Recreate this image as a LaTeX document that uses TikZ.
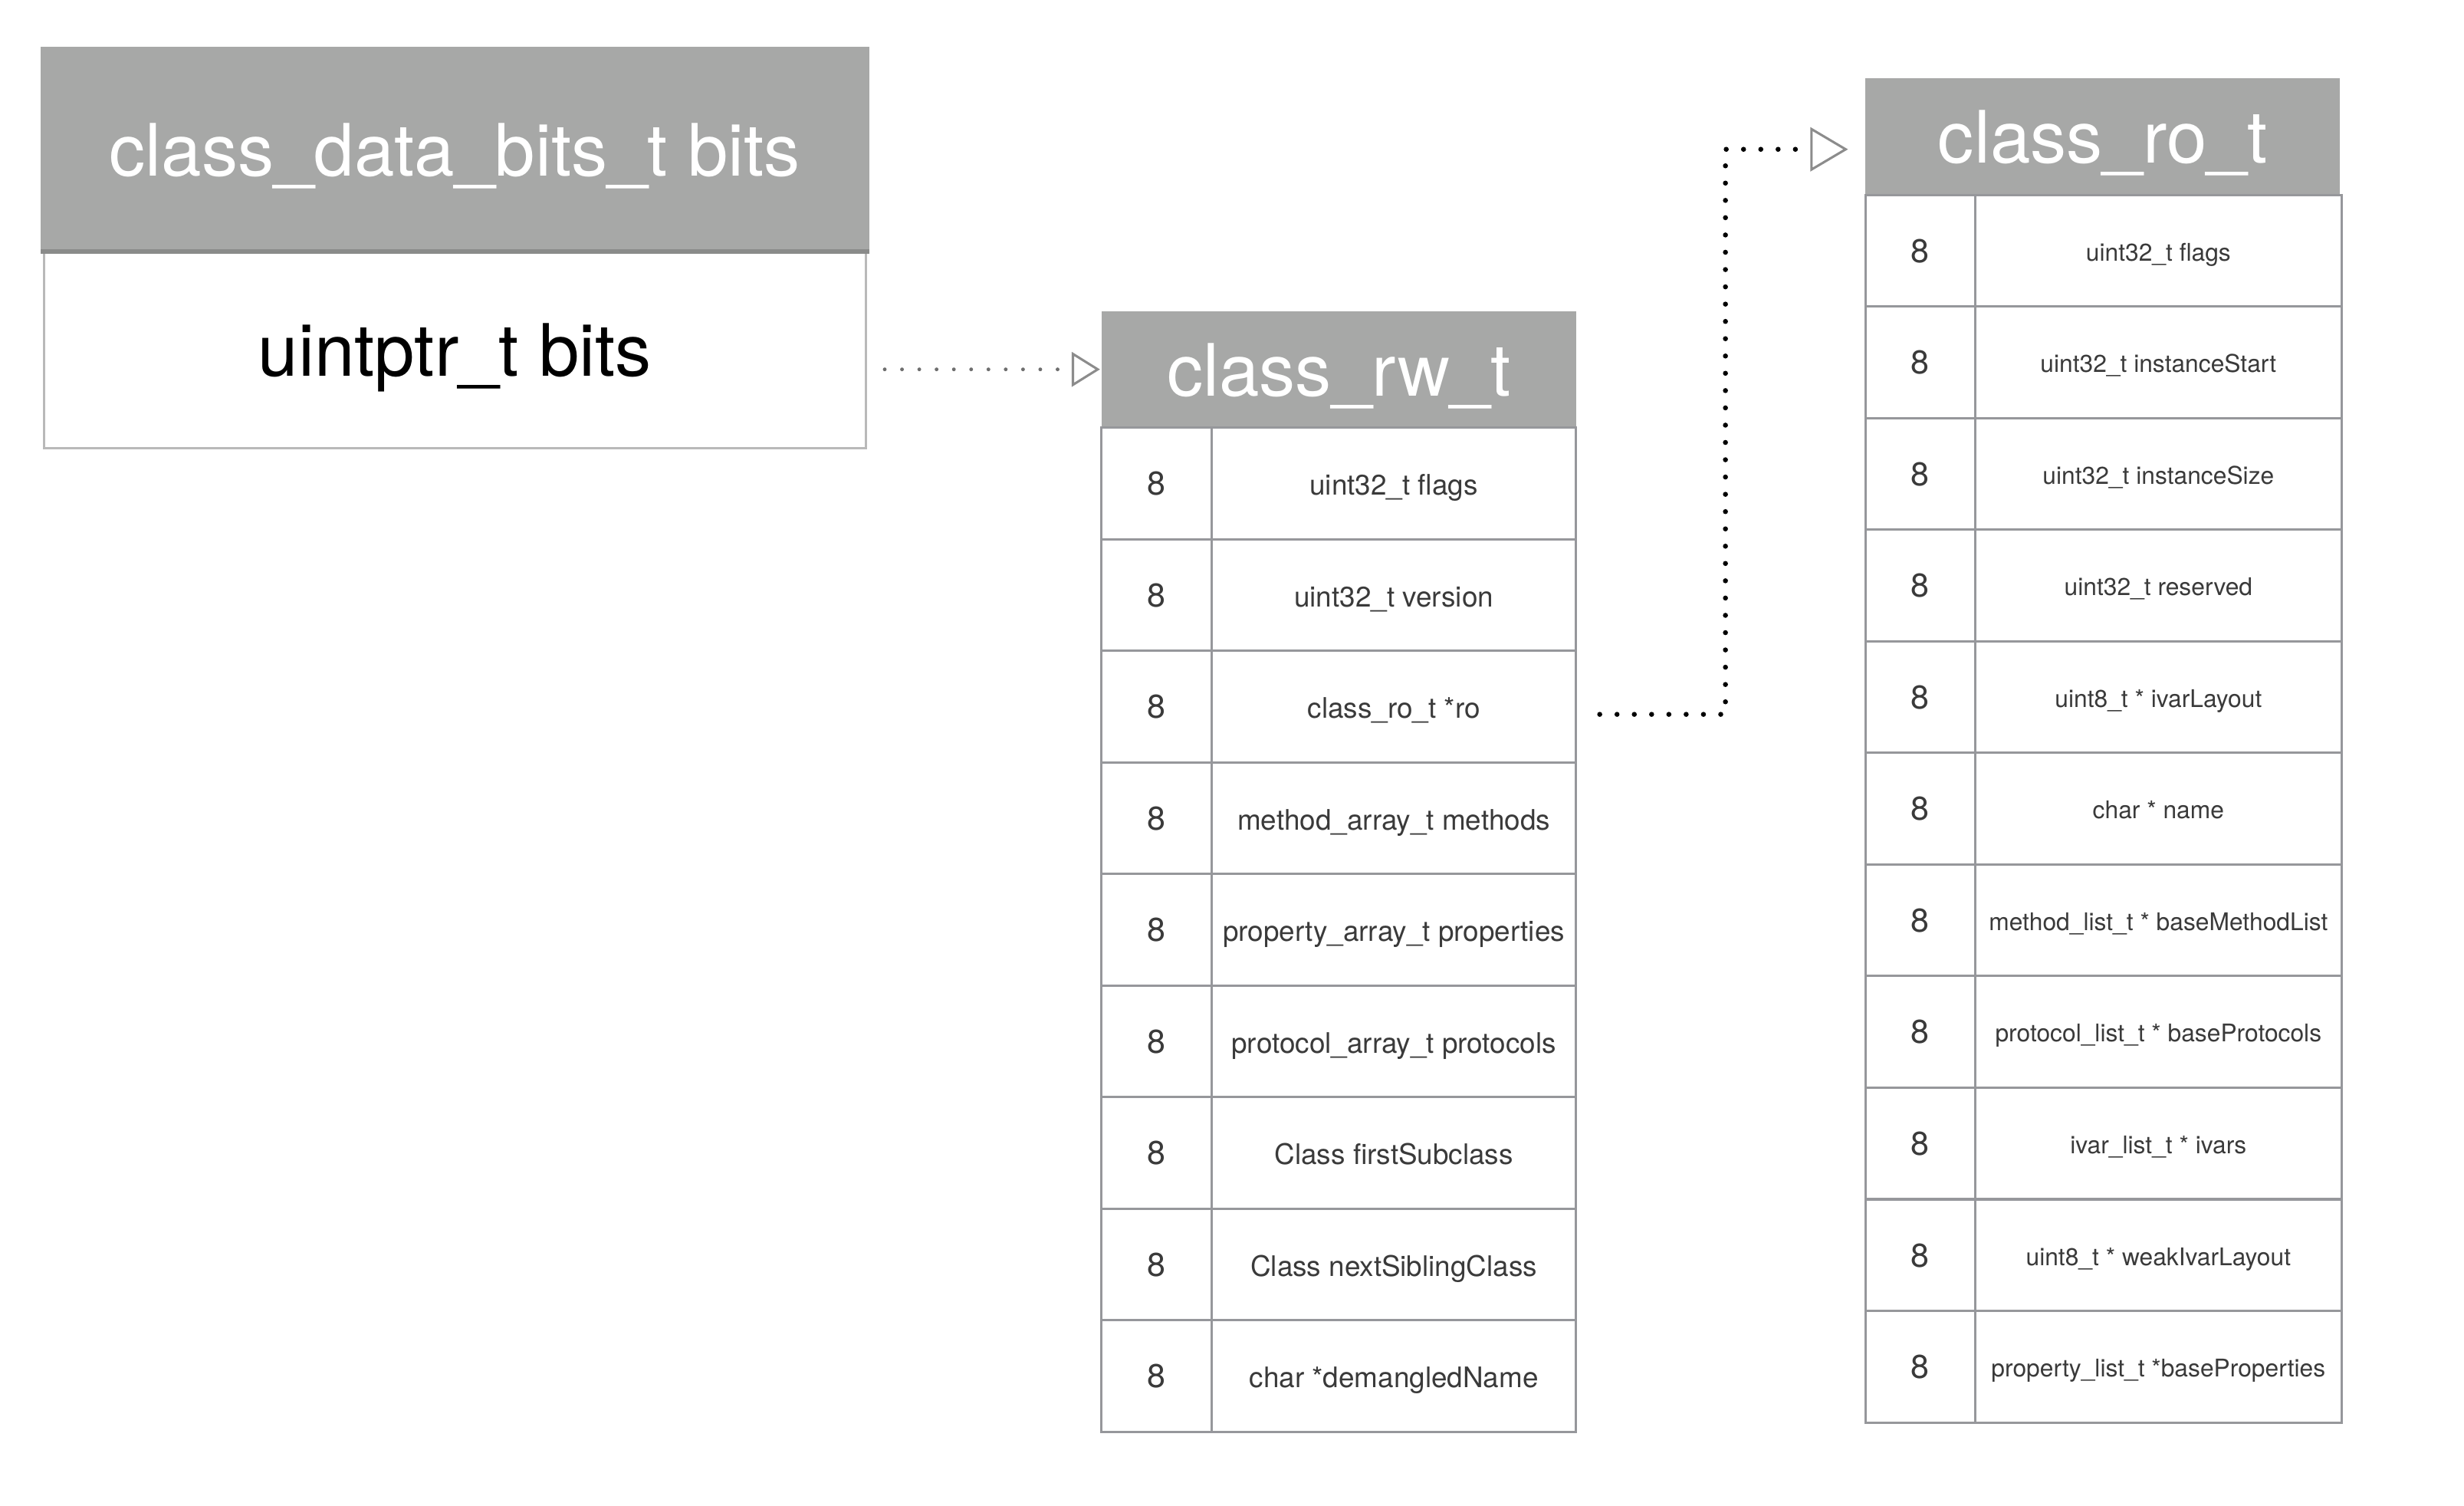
\documentclass[tikz,border=0pt]{standalone}
\usepackage{fontspec}
\setmainfont{TeX Gyre Heros}
\usetikzlibrary{positioning,arrows.meta}

\definecolor{hdrgray}{RGB}{167,168,167}
\definecolor{hdrline}{RGB}{138,139,138}
\definecolor{cellgray}{RGB}{150,151,155}
\definecolor{boxgray}{RGB}{185,185,185}
\definecolor{txtgray}{RGB}{58,58,58}
\definecolor{dotgray}{RGB}{110,110,110}
\definecolor{tipgray}{RGB}{140,140,140}

\tikzset{
  hdr/.style={anchor=north west, fill=hdrgray, text=white, inner sep=0pt, outer sep=0pt,
    text depth=0pt, font=\fontsize{46}{52}\selectfont},
  bitsbox/.style={anchor=north west, draw=boxgray, line width=1.5pt, inner sep=0pt, outer sep=0pt,
    text depth=0pt, font=\fontsize{46}{52}\selectfont},
  key/.style={draw=cellgray, line width=1.5pt, inner sep=0pt, outer sep=0pt, text depth=0pt,
    minimum width=70pt, minimum height=71pt, text=txtgray, font=\fontsize{21}{24}\selectfont},
  rwfield/.style={key, minimum width=232pt, text height=15pt, font=\fontsize{18}{22}\selectfont},
  rofield/.style={key, minimum width=233pt, text height=13pt, font=\fontsize{15.5}{18}\selectfont},
  lnkthin/.style={draw=dotgray, line width=2.4pt, line cap=round, dash pattern=on 0pt off 11pt,
    -{Triangle[open, length=18pt, width=22pt, line width=1.5pt, color=tipgray]}},
  lnkbold/.style={draw=black, line width=3.2pt, line cap=round, dash pattern=on 0pt off 11pt,
    -{Triangle[open, length=24pt, width=28pt, line width=1.5pt, color=tipgray]}}
}

\begin{document}
\begin{tikzpicture}[x=1pt,y=-1pt]
  \useasboundingbox (0,0) rectangle (1568,958);

  % class_data_bits_t
  \node[hdr, minimum width=527pt, minimum height=130pt] (bitshdr) at (26,30) {class\_data\_bits\_t bits};
  \node[bitsbox, minimum width=523pt, minimum height=125pt] (bitsbody) at (28,160) {uintptr\_t bits};
  \draw[hdrline, line width=3pt] (bitshdr.south west) -- (bitshdr.south east);

  % class_rw_t
  \node[hdr, minimum width=302pt, minimum height=74pt] (rwhdr) at (701,198) {class\_rw\_t};
  \node[key, anchor=north west] (rwk1) at (rwhdr.south west) {8};
  \node[rwfield, right=0pt of rwk1] (rwf1) {uint32\_t flags};
  \node[key, below=0pt of rwk1] (rwk2) {8};
  \node[rwfield, right=0pt of rwk2] (rwf2) {uint32\_t version};
  \node[key, below=0pt of rwk2] (rwk3) {8};
  \node[rwfield, right=0pt of rwk3] (rwf3) {class\_ro\_t *ro};
  \node[key, below=0pt of rwk3] (rwk4) {8};
  \node[rwfield, right=0pt of rwk4] (rwf4) {method\_array\_t methods};
  \node[key, below=0pt of rwk4] (rwk5) {8};
  \node[rwfield, right=0pt of rwk5] (rwf5) {property\_array\_t properties};
  \node[key, below=0pt of rwk5] (rwk6) {8};
  \node[rwfield, right=0pt of rwk6] (rwf6) {protocol\_array\_t protocols};
  \node[key, below=0pt of rwk6] (rwk7) {8};
  \node[rwfield, right=0pt of rwk7] (rwf7) {Class firstSubclass};
  \node[key, below=0pt of rwk7] (rwk8) {8};
  \node[rwfield, right=0pt of rwk8] (rwf8) {Class nextSiblingClass};
  \node[key, below=0pt of rwk8] (rwk9) {8};
  \node[rwfield, right=0pt of rwk9] (rwf9) {char *demangledName};

  % class_ro_t
  \node[hdr, minimum width=302pt, minimum height=74pt] (rohdr) at (1187,50) {class\_ro\_t};
  \node[key, anchor=north west] (rok1) at (rohdr.south west) {8};
  \node[rofield, right=0pt of rok1] (rof1) {uint32\_t flags};
  \node[key, below=0pt of rok1] (rok2) {8};
  \node[rofield, right=0pt of rok2] (rof2) {uint32\_t instanceStart};
  \node[key, below=0pt of rok2] (rok3) {8};
  \node[rofield, right=0pt of rok3] (rof3) {uint32\_t instanceSize};
  \node[key, below=0pt of rok3] (rok4) {8};
  \node[rofield, right=0pt of rok4] (rof4) {uint32\_t reserved};
  \node[key, below=0pt of rok4] (rok5) {8};
  \node[rofield, right=0pt of rok5] (rof5) {uint8\_t * ivarLayout};
  \node[key, below=0pt of rok5] (rok6) {8};
  \node[rofield, right=0pt of rok6] (rof6) {char * name};
  \node[key, below=0pt of rok6] (rok7) {8};
  \node[rofield, right=0pt of rok7] (rof7) {method\_list\_t * baseMethodList};
  \node[key, below=0pt of rok7] (rok8) {8};
  \node[rofield, right=0pt of rok8] (rof8) {protocol\_list\_t * baseProtocols};
  \node[key, below=0pt of rok8] (rok9) {8};
  \node[rofield, right=0pt of rok9] (rof9) {ivar\_list\_t * ivars};
  \node[key, below=0pt of rok9] (rok10) {8};
  \node[rofield, right=0pt of rok10] (rof10) {uint8\_t * weakIvarLayout};
  \node[key, below=0pt of rok10] (rok11) {8};
  \node[rofield, right=0pt of rok11] (rof11) {property\_list\_t *baseProperties};

  % pointers
  \draw[lnkthin, shorten <=12pt, shorten >=1pt] (bitsbody.east |- rwhdr.west) -- (rwhdr.west);
  \draw[lnkbold, shorten <=15pt] ([yshift=-5pt]rwf3.east) -- ++(95,0)
    |- ([xshift=-11pt,yshift=-8pt]rohdr.west);
\end{tikzpicture}
\end{document}
